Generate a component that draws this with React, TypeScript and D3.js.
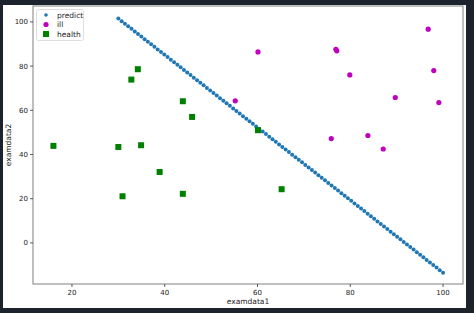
import React from "react";
import * as d3 from "d3";

const predictX = [30.0,30.71,31.41,32.12,32.83,33.54,34.24,34.95,35.66,36.36,37.07,37.78,38.48,39.19,39.9,40.61,41.31,42.02,42.73,43.43,44.14,44.85,45.56,46.26,46.97,47.68,48.38,49.09,49.8,50.51,51.21,51.92,52.63,53.33,54.04,54.75,55.45,56.16,56.87,57.58,58.28,58.99,59.7,60.4,61.11,61.82,62.53,63.23,63.94,64.65,65.35,66.06,66.77,67.47,68.18,68.89,69.6,70.3,71.01,71.72,72.42,73.13,73.84,74.55,75.25,75.96,76.67,77.37,78.08,78.79,79.49,80.2,80.91,81.62,82.32,83.03,83.74,84.44,85.15,85.86,86.57,87.27,87.98,88.69,89.39,90.1,90.81,91.52,92.22,92.93,93.64,94.34,95.05,95.76,96.46,97.17,97.88,98.59,99.29,100.0];
const predictY = [101.5,100.34,99.18,98.02,96.85,95.69,94.53,93.37,92.21,91.05,89.88,88.72,87.56,86.4,85.24,84.08,82.91,81.75,80.59,79.43,78.27,77.11,75.94,74.78,73.62,72.46,71.3,70.14,68.98,67.81,66.65,65.49,64.33,63.17,62.01,60.84,59.68,58.52,57.36,56.2,55.04,53.87,52.71,51.55,50.39,49.23,48.07,46.9,45.74,44.58,43.42,42.26,41.1,39.94,38.77,37.61,36.45,35.29,34.13,32.97,31.8,30.64,29.48,28.32,27.16,26.0,24.83,23.67,22.51,21.35,20.19,19.03,17.86,16.7,15.54,14.38,13.22,12.06,10.9,9.73,8.57,7.41,6.25,5.09,3.93,2.76,1.6,0.44,-0.72,-1.88,-3.04,-4.2,-5.37,-6.53,-7.69,-8.85,-10.01,-11.17,-12.34,-13.5];

const illX = [60.1, 55.2, 76.9, 77.1, 79.9, 96.8, 98.0, 89.7, 99.1, 75.9, 83.8, 87.1];
const illY = [86.4, 64.3, 87.6, 86.9, 76.0, 96.7, 78.0, 65.8, 63.5, 47.2, 48.6, 42.5];

const healthX = [34.2, 32.8, 43.9, 45.9, 16.0, 30.0, 34.9, 38.9, 30.9, 43.9, 60.1, 65.2];
const healthY = [78.6, 73.9, 64.1, 57.0, 43.9, 43.4, 44.2, 32.1, 21.1, 22.2, 51.0, 24.3];

const xTicks = [20, 40, 60, 80, 100];
const yTicks = [0, 20, 40, 60, 80, 100];

const W = 474, H = 313;
const L = 33, R = 463, T = 6, B = 284;

export default function App() {
  const x = d3.scaleLinear().domain([11.6, 104.3]).range([L, R]);
  const y = d3.scaleLinear().domain([-18.6, 107.2]).range([B, T]);
  const font = "DejaVu Sans, sans-serif";
  const legend = [
    { label: "predict", kind: "pc" },
    { label: "ill", kind: "ic" },
    { label: "health", kind: "hs" },
  ];
  return (
    <svg width={W} height={H} style={{ position: "absolute", left: 0, top: 0 }} fontFamily={font}>
      <rect x={0} y={0} width={W} height={H} fill="#1c232d" />
      <rect x={3} y={5} width={463} height={303} fill="#ffffff" />
      {/* predict */}
      {predictX.map((v, i) => (
        <circle key={"p" + i} cx={x(v)} cy={y(predictY[i])} r={2} fill="#1f77b4" />
      ))}
      {illX.map((v, i) => (
        <circle key={"i" + i} cx={x(v)} cy={y(illY[i])} r={2.6} fill="#bf00bf" />
      ))}
      {healthX.map((v, i) => (
        <rect key={"h" + i} x={x(v) - 3} y={y(healthY[i]) - 3} width={6} height={6} fill="#008000" />
      ))}
      {/* frame */}
      <rect x={L} y={T} width={R - L} height={B - T} fill="none" stroke="#808080" strokeWidth={1} />
      {xTicks.map((t) => (
        <g key={"xt" + t}>
          <line x1={x(t)} x2={x(t)} y1={B} y2={B + 3} stroke="#333" strokeWidth={0.8} />
          <text x={x(t)} y={B + 11} fontSize={7} textAnchor="middle" fill="#222">{t}</text>
        </g>
      ))}
      {yTicks.map((t) => (
        <g key={"yt" + t}>
          <line x1={L - 3} x2={L} y1={y(t)} y2={y(t)} stroke="#333" strokeWidth={0.8} />
          <text x={L - 5} y={y(t) + 2.5} fontSize={7} textAnchor="end" fill="#222">{t}</text>
        </g>
      ))}
      <text x={(L + R) / 2} y={304} fontSize={7.5} textAnchor="middle" fill="#222">examdata1</text>
      <text transform={`translate(11,${(T + B) / 2}) rotate(-90)`} fontSize={7.5} textAnchor="middle" fill="#222">examdata2</text>
      {/* legend */}
      <rect x={36.5} y={9.5} width={47} height={31} rx={2} fill="#fff" stroke="#d6d6d6" strokeWidth={0.8} />
      {legend.map((e, i) => {
        const cy = 15 + i * 9.5;
        return (
          <g key={e.label}>
            {e.kind === "pc" && <circle cx={46} cy={cy} r={1.8} fill="#1f77b4" />}
            {e.kind === "ic" && <circle cx={46} cy={cy} r={2.6} fill="#bf00bf" />}
            {e.kind === "hs" && <rect x={43} y={cy - 3} width={6} height={6} fill="#008000" />}
            <text x={57} y={cy + 2.5} fontSize={7.5} fill="#222">{e.label}</text>
          </g>
        );
      })}
    </svg>
  );
}
